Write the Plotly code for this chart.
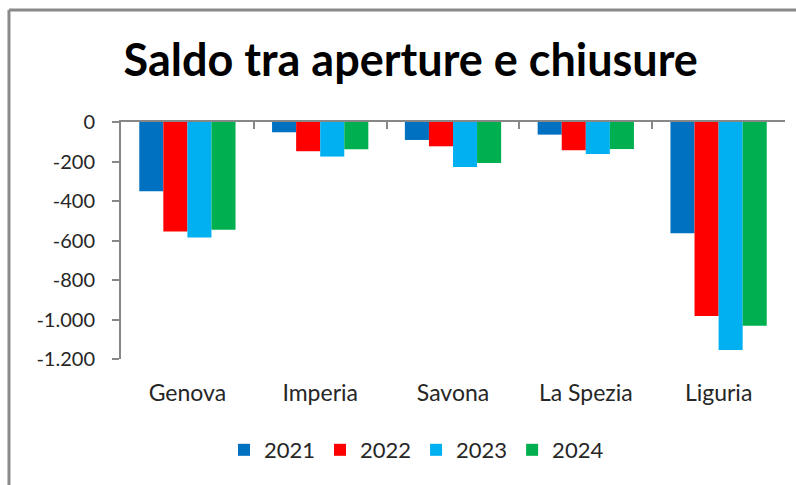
import plotly.graph_objects as go

categories = ["Genova", "Imperia", "Savona", "La Spezia", "Liguria"]
years = ["2021", "2022", "2023", "2024"]
v2021 = [-350, -52, -91, -64, -563]
v2022 = [-555, -148, -123, -143, -982]
v2023 = [-585, -175, -228, -162, -1154]
v2024 = [-545, -138, -207, -137, -1032]
colors = ["#0070C0", "#FF0000", "#00B0F0", "#00B050"]
y_tickvals = [0, -200, -400, -600, -800, -1000, -1200]
y_ticktext = ["0", "-200", "-400", "-600", "-800", "-1.000", "-1.200"]

series = [v2021, v2022, v2023, v2024]
FONT = "Lato"
AXIS = "#878787"

fig = go.Figure()
for name, vals, col in zip(years, series, colors):
    fig.add_trace(go.Bar(x=categories, y=vals, name=name, marker=dict(color=col, line=dict(width=0))))

# invisible helper trace for the top (zero) category axis with boundary ticks
fig.add_trace(go.Scatter(x=categories, y=[None] * len(categories), xaxis="x2",
                         showlegend=False, hoverinfo="skip", mode="markers"))

fig.update_layout(
    width=796, height=485,
    paper_bgcolor="white", plot_bgcolor="white",
    margin=dict(l=121, r=11, t=122, b=126, autoexpand=False),
    barmode="group", bargap=0.275, bargroupgap=0,
    title=dict(text="<b>Saldo tra aperture e chiusure</b>", x=0.516, xref="container",
               xanchor="center", y=0.876, yref="container", yanchor="middle",
               font=dict(family=FONT, size=45, color="#000000")),
    font=dict(family=FONT, color="#262626"),
    xaxis=dict(showline=False, ticks="", showgrid=False, zeroline=False, automargin=False,
               tickfont=dict(size=23, color="#262626"), ticklabelstandoff=18),
    xaxis2=dict(overlaying="x", side="top", anchor="y", matches="x", showline=True,
                linecolor=AXIS, linewidth=2, ticks="inside", tickson="boundaries",
                ticklen=7, tickwidth=2, tickcolor=AXIS, showticklabels=False,
                showgrid=False, zeroline=False, automargin=False),
    yaxis=dict(range=[-1200, 0], tickvals=y_tickvals, ticktext=y_ticktext,
               showline=True, linecolor=AXIS, linewidth=2, ticks="outside",
               ticklen=7, tickwidth=2, tickcolor=AXIS, showgrid=False, zeroline=False,
               automargin=False,
               tickfont=dict(size=20, color="#262626"), ticklabelstandoff=13),
    legend=dict(orientation="h", x=0.445, xanchor="center", y=-0.384, yanchor="middle",
                font=dict(size=22, color="#262626"), itemwidth=30, traceorder="normal"),
    shapes=[
        dict(type="line", xref="paper", yref="paper", x0=-0.1687, x1=-0.1687, y0=-0.6, y1=1.4726,
             line=dict(color="#8a8a8a", width=3)),
        dict(type="line", xref="paper", yref="paper", x0=-0.1687, x1=1.1, y0=1.4726, y1=1.4726,
             line=dict(color="#8a8a8a", width=3)),
    ],
    showlegend=True,
)

fig.write_html("out.html", config={"displayModeBar": False},
               post_script="document.body.style.margin='0';")
